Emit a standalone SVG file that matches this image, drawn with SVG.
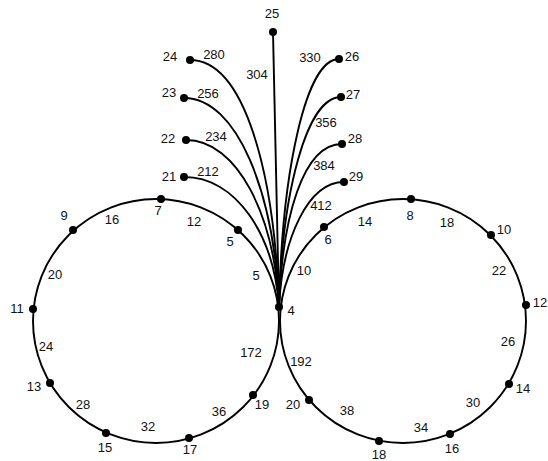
<svg xmlns="http://www.w3.org/2000/svg" width="548" height="461" viewBox="0 0 548 461">
<style>
.e{fill:none;stroke:#000;stroke-width:1.9}
.d{fill:#000}
text{font-family:"Liberation Sans",Arial,sans-serif;font-size:13px;fill:#111;text-anchor:middle}
</style>
<rect width="548" height="461" fill="#fff"/>
<g id="connectors">
<ellipse class="e" cx="156" cy="321" rx="123" ry="122"/>
<ellipse class="e" cx="403" cy="321" rx="123" ry="122"/>
<line class="e" x1="273" y1="32" x2="279" y2="307"/>
<path class="e" d="M184,177 C236.4,177 274.2,235.2 279,307"/>
<path class="e" d="M186,140 C237.3,140 274.3,214.8 279,307"/>
<path class="e" d="M184,98 C237,98 274.2,191.6 279,307"/>
<path class="e" d="M190,60 C244,60 274.5,170.7 279,307"/>
<path class="e" d="M339,59 C305.9,59 282,170.1 279,307"/>
<path class="e" d="M341,97 C306.8,97 282.1,191.1 279,307"/>
<path class="e" d="M342,144 C303,144 282.2,217 279,307"/>
<path class="e" d="M344,182 C308.1,182 282.3,238 279,307"/>
</g>
<g id="edge-labels">
<text x="208" y="176">212</text>
<text x="216" y="141">234</text>
<text x="208" y="98">256</text>
<text x="214" y="59">280</text>
<text x="257" y="79">304</text>
<text x="310" y="62">330</text>
<text x="326" y="127">356</text>
<text x="324" y="170">384</text>
<text x="321" y="210">412</text>
<text x="112" y="224">16</text>
<text x="194" y="226">12</text>
<text x="256" y="280">5</text>
<text x="55" y="279">20</text>
<text x="46" y="351">24</text>
<text x="251" y="357">172</text>
<text x="83" y="409">28</text>
<text x="219" y="416">36</text>
<text x="148" y="431">32</text>
<text x="365" y="226">14</text>
<text x="447" y="227">18</text>
<text x="304" y="275">10</text>
<text x="499" y="275">22</text>
<text x="508" y="346">26</text>
<text x="301" y="366">192</text>
<text x="473" y="407">30</text>
<text x="347" y="415">38</text>
<text x="421" y="432">34</text>
</g>
<g id="n4"><circle class="d" cx="279" cy="307" r="4"/><text x="291" y="315">4</text></g>
<g id="n5"><circle class="d" cx="238" cy="230" r="4"/><text x="230" y="246">5</text></g>
<g id="n6"><circle class="d" cx="324" cy="227" r="4"/><text x="328" y="244">6</text></g>
<g id="n7"><circle class="d" cx="161" cy="199" r="4"/><text x="158" y="215">7</text></g>
<g id="n8"><circle class="d" cx="411" cy="199" r="4"/><text x="410" y="220">8</text></g>
<g id="n9"><circle class="d" cx="73" cy="230" r="4"/><text x="64" y="220">9</text></g>
<g id="n10"><circle class="d" cx="491" cy="235" r="4"/><text x="504" y="234">10</text></g>
<g id="n11"><circle class="d" cx="33" cy="309" r="4"/><text x="17" y="313">11</text></g>
<g id="n12"><circle class="d" cx="526" cy="305" r="4"/><text x="540" y="307">12</text></g>
<g id="n13"><circle class="d" cx="50" cy="383" r="4"/><text x="34" y="391">13</text></g>
<g id="n14"><circle class="d" cx="509" cy="384" r="4"/><text x="523" y="393">14</text></g>
<g id="n15"><circle class="d" cx="106" cy="433" r="4"/><text x="105" y="452">15</text></g>
<g id="n16"><circle class="d" cx="450" cy="434" r="4"/><text x="452" y="453">16</text></g>
<g id="n17"><circle class="d" cx="189" cy="438" r="4"/><text x="190" y="454">17</text></g>
<g id="n18"><circle class="d" cx="379" cy="441" r="4"/><text x="379" y="459">18</text></g>
<g id="n19"><circle class="d" cx="253" cy="395" r="4"/><text x="262" y="409">19</text></g>
<g id="n20"><circle class="d" cx="309" cy="400" r="4"/><text x="293" y="409">20</text></g>
<g id="n21"><circle class="d" cx="184" cy="177" r="4"/><text x="169" y="181">21</text></g>
<g id="n22"><circle class="d" cx="186" cy="140" r="4"/><text x="168" y="143">22</text></g>
<g id="n23"><circle class="d" cx="184" cy="98" r="4"/><text x="169" y="97">23</text></g>
<g id="n24"><circle class="d" cx="190" cy="60" r="4"/><text x="170" y="61">24</text></g>
<g id="n25"><circle class="d" cx="273" cy="32" r="4"/><text x="272" y="18">25</text></g>
<g id="n26"><circle class="d" cx="339" cy="59" r="4"/><text x="352" y="61">26</text></g>
<g id="n27"><circle class="d" cx="341" cy="97" r="4"/><text x="353" y="99">27</text></g>
<g id="n28"><circle class="d" cx="342" cy="144" r="4"/><text x="355" y="143">28</text></g>
<g id="n29"><circle class="d" cx="344" cy="182" r="4"/><text x="356" y="181">29</text></g>
</svg>
